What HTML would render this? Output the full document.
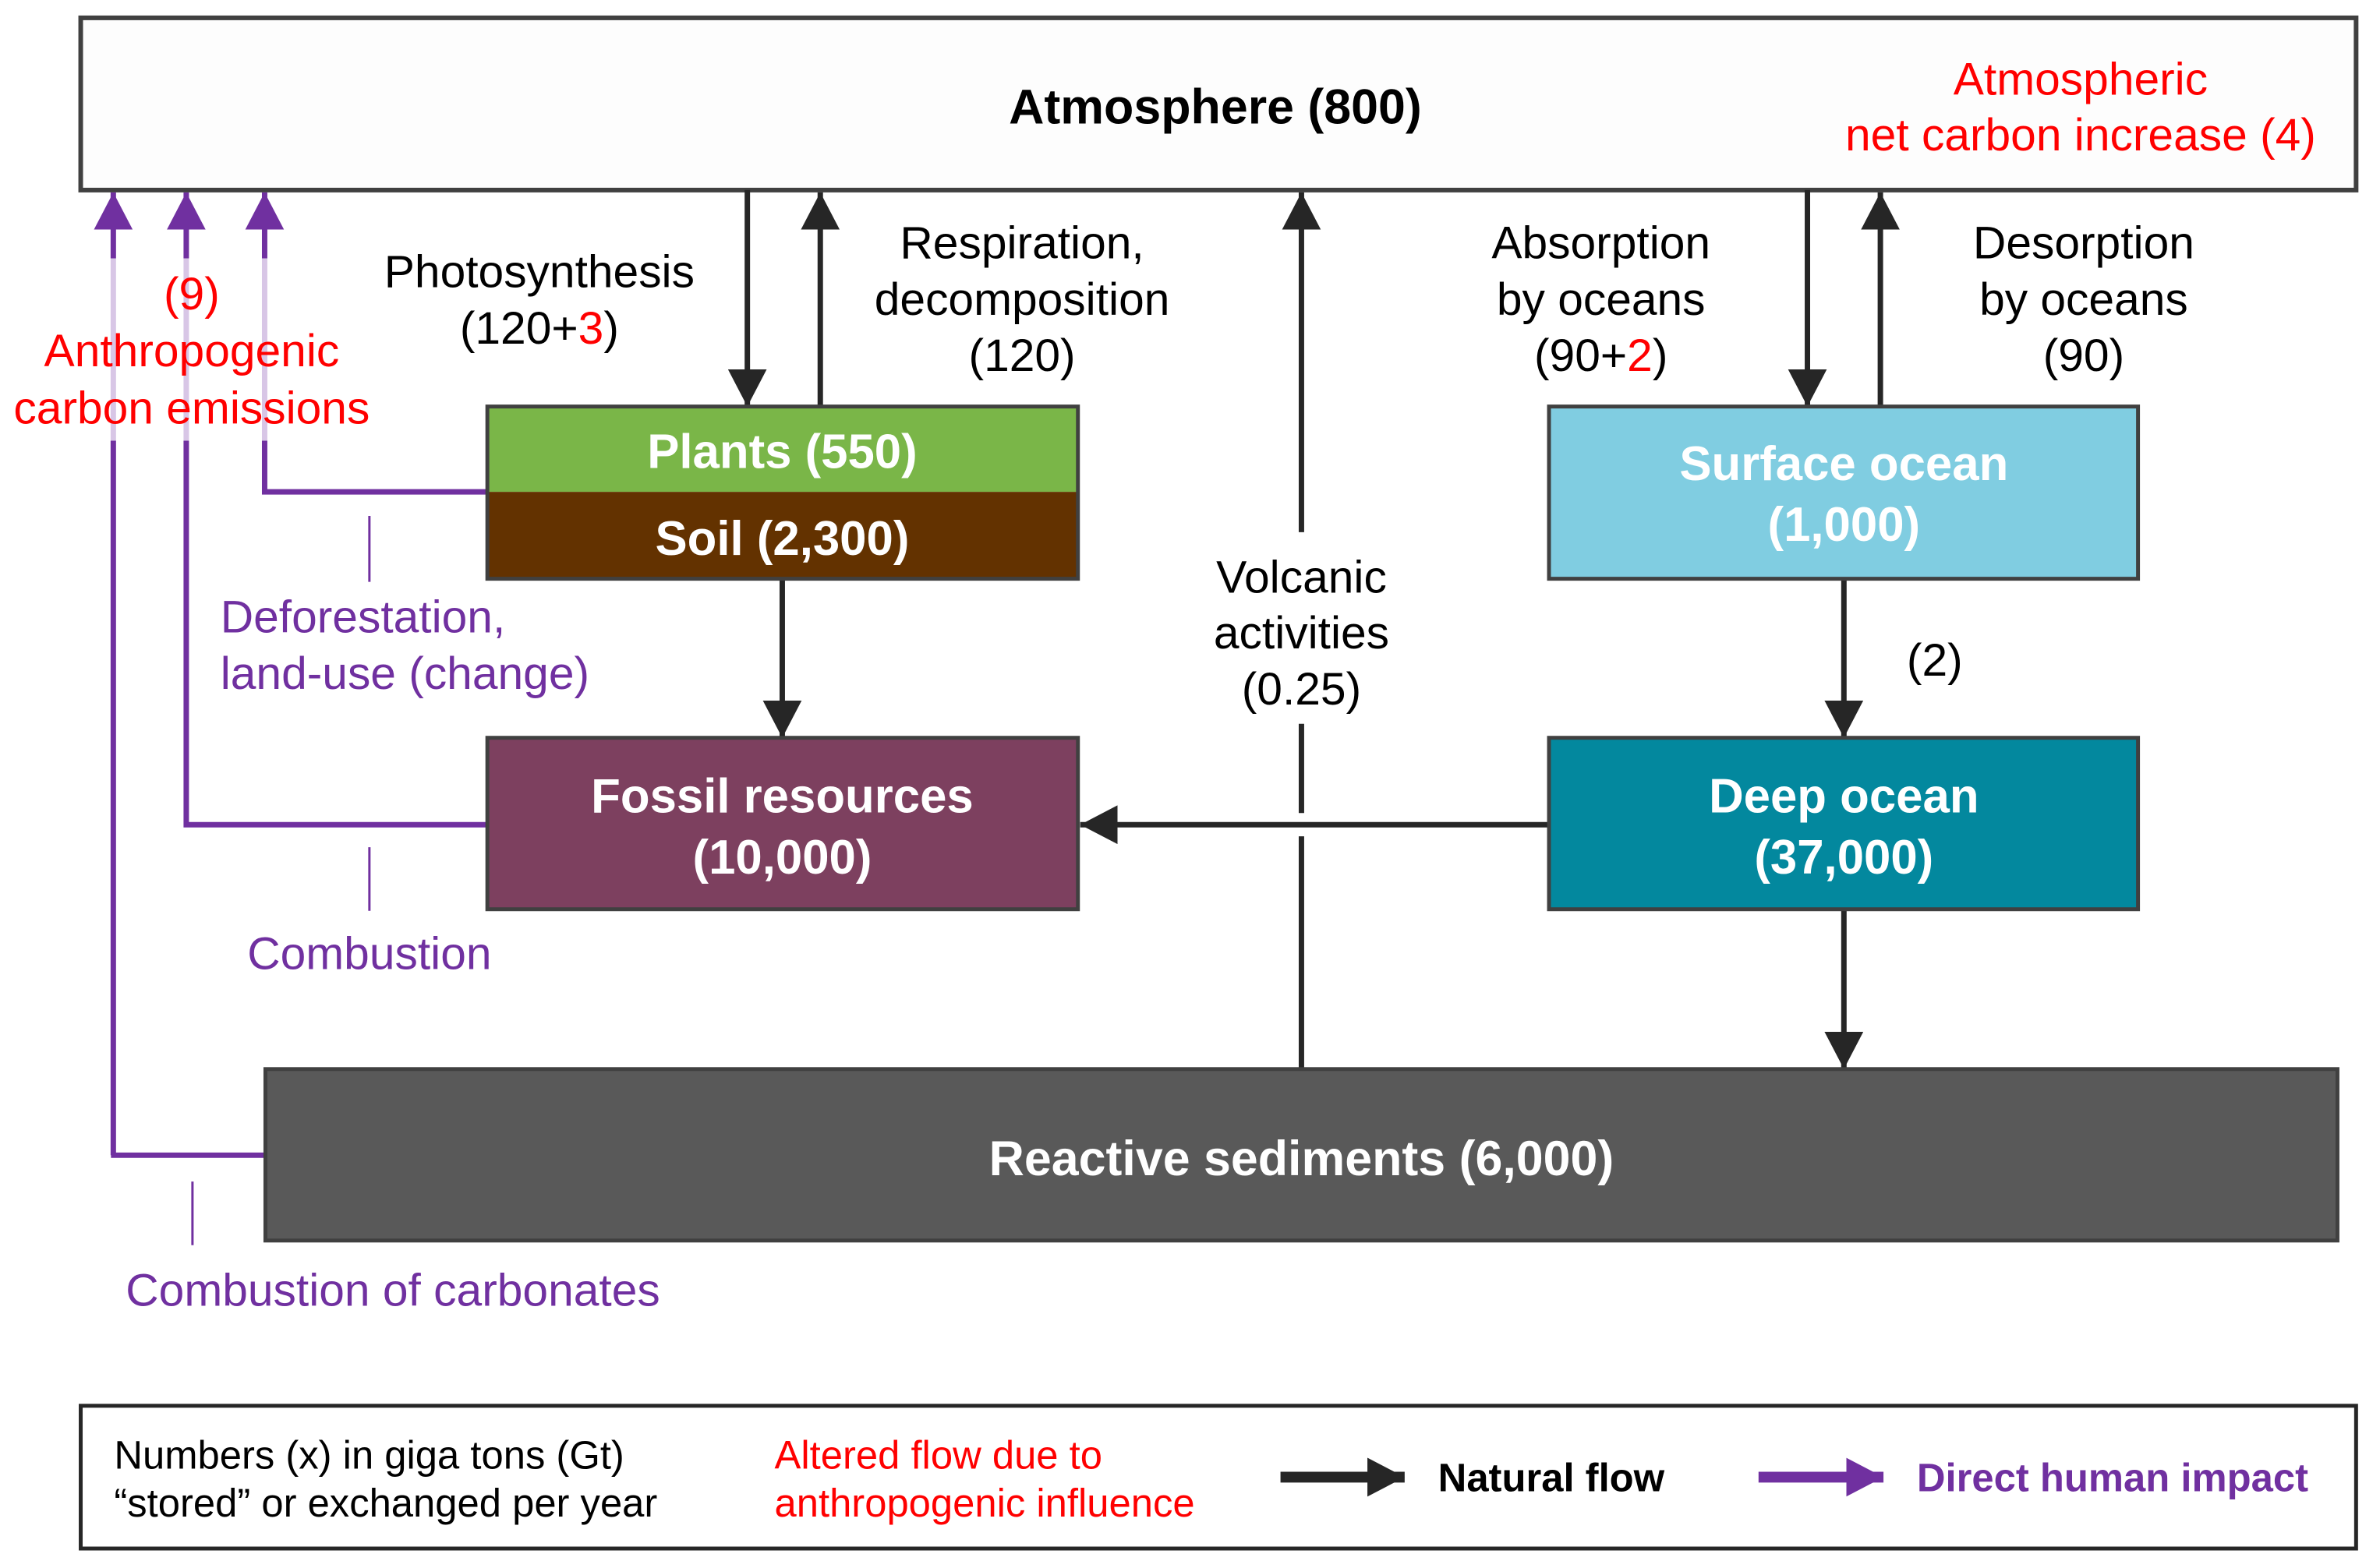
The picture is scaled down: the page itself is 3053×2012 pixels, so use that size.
<!DOCTYPE html>
<html><head><meta charset="utf-8"><style>
html,body{margin:0;padding:0;background:#fff;}
svg{display:block;}
text{font-family:"Liberation Sans",Arial,sans-serif;}
</style></head><body>
<svg width="3053" height="2012" viewBox="0 0 3053 2012" xmlns="http://www.w3.org/2000/svg">
<defs>
<marker id="ab" markerUnits="userSpaceOnUse" markerWidth="52" markerHeight="50" refX="48" refY="25" orient="auto"><path d="M0,0 L48,25 L0,50 Z" fill="#262626"/></marker>
<marker id="ap" markerUnits="userSpaceOnUse" markerWidth="52" markerHeight="50" refX="48" refY="25" orient="auto"><path d="M0,0 L48,25 L0,50 Z" fill="#7030a0"/></marker>
</defs>
<g transform="scale(0.9955)">
<!-- Atmosphere -->
<rect x="104" y="23" width="2932" height="222" fill="#fdfdfd" stroke="#404040" stroke-width="6"/>
<text x="1566" y="159" font-size="63" font-weight="bold" text-anchor="middle">Atmosphere (800)</text>
<text x="2681" y="122" font-size="59" fill="#ff0000" text-anchor="middle">Atmospheric</text>
<text x="2681" y="194" font-size="59" fill="#ff0000" text-anchor="middle">net carbon increase (4)</text>

<!-- purple lines -->
<g fill="none" stroke-width="7">
<path d="M146,1489 L146,568 M146,333 L146,290" stroke="#7030a0"/>
<path d="M146,568 L146,333" stroke="#d8c6e6"/>
<path d="M146,292 L146,248" stroke="#7030a0" marker-end="url(#ap)"/>
<path d="M342,1489 L143,1489" stroke="#7030a0"/>
<path d="M628,1063 L240,1063 L240,568 M240,333 L240,290" stroke="#7030a0"/>
<path d="M240,568 L240,333" stroke="#d8c6e6"/>
<path d="M240,292 L240,248" stroke="#7030a0" marker-end="url(#ap)"/>
<path d="M628,634 L341,634 L341,568 M341,333 L341,290" stroke="#7030a0"/>
<path d="M341,568 L341,333" stroke="#d8c6e6"/>
<path d="M341,292 L341,248" stroke="#7030a0" marker-end="url(#ap)"/>
</g>
<g stroke="#7030a0" stroke-width="3">
<line x1="476" y1="665" x2="476" y2="750"/>
<line x1="476" y1="1092" x2="476" y2="1174"/>
<line x1="248" y1="1523" x2="248" y2="1605"/>
</g>
<text x="247" y="399" font-size="59" fill="#ff0000" text-anchor="middle">(9)</text>
<text x="247" y="472" font-size="59" fill="#ff0000" text-anchor="middle">Anthropogenic</text>
<text x="247" y="546" font-size="59" fill="#ff0000" text-anchor="middle">carbon emissions</text>
<text x="284" y="815" font-size="59" fill="#7030a0">Deforestation,</text>
<text x="284" y="888" font-size="59" fill="#7030a0">land-use (change)</text>
<text x="476" y="1249" font-size="59" fill="#7030a0" text-anchor="middle">Combustion</text>
<text x="162" y="1683" font-size="59" fill="#7030a0">Combustion of carbonates</text>

<!-- black arrows -->
<g stroke="#262626" stroke-width="7" fill="none">
<line x1="963" y1="245" x2="963" y2="524" marker-end="url(#ab)"/>
<line x1="1057" y1="524" x2="1057" y2="248" marker-end="url(#ab)"/>
<line x1="2329" y1="245" x2="2329" y2="524" marker-end="url(#ab)"/>
<line x1="2423" y1="524" x2="2423" y2="248" marker-end="url(#ab)"/>
<line x1="1008" y1="746" x2="1008" y2="951" marker-end="url(#ab)"/>
<line x1="2376" y1="746" x2="2376" y2="951" marker-end="url(#ab)"/>
<line x1="2376" y1="1172" x2="2376" y2="1378" marker-end="url(#ab)"/>
<line x1="1996" y1="1063" x2="1392" y2="1063" marker-end="url(#ab)"/>
<line x1="1677" y1="1378" x2="1677" y2="1078"/>
<line x1="1677" y1="1048" x2="1677" y2="933"/>
<line x1="1677" y1="686" x2="1677" y2="248" marker-end="url(#ab)"/>
</g>

<text x="695" y="370" font-size="59" text-anchor="middle">Photosynthesis</text>
<text x="695" y="443" font-size="59" text-anchor="middle">(120+<tspan fill="#ff0000">3</tspan>)</text>
<text x="1317" y="333" font-size="59" text-anchor="middle">Respiration,</text>
<text x="1317" y="406" font-size="59" text-anchor="middle">decomposition</text>
<text x="1317" y="478" font-size="59" text-anchor="middle">(120)</text>
<text x="2063" y="333" font-size="59" text-anchor="middle">Absorption</text>
<text x="2063" y="406" font-size="59" text-anchor="middle">by oceans</text>
<text x="2063" y="478" font-size="59" text-anchor="middle">(90+<tspan fill="#ff0000">2</tspan>)</text>
<text x="2685" y="333" font-size="59" text-anchor="middle">Desorption</text>
<text x="2685" y="406" font-size="59" text-anchor="middle">by oceans</text>
<text x="2685" y="478" font-size="59" text-anchor="middle">(90)</text>
<text x="1677" y="764" font-size="59" text-anchor="middle">Volcanic</text>
<text x="1677" y="836" font-size="59" text-anchor="middle">activities</text>
<text x="1677" y="908" font-size="59" text-anchor="middle">(0.25)</text>
<text x="2493" y="871" font-size="59" text-anchor="middle">(2)</text>

<!-- boxes -->
<rect x="628" y="524" width="761" height="110" fill="#7ab648"/>
<rect x="628" y="634" width="761" height="112" fill="#633200"/>
<rect x="628" y="524" width="761" height="222" fill="none" stroke="#404040" stroke-width="5"/>
<text x="1008" y="603" font-size="62" font-weight="bold" fill="#fff" text-anchor="middle">Plants (550)</text>
<text x="1008" y="715" font-size="62" font-weight="bold" fill="#fff" text-anchor="middle">Soil (2,300)</text>

<rect x="628" y="951" width="761" height="221" fill="#7d405f" stroke="#404040" stroke-width="5"/>
<text x="1008" y="1047" font-size="62" font-weight="bold" fill="#fff" text-anchor="middle">Fossil resources</text>
<text x="1008" y="1126" font-size="62" font-weight="bold" fill="#fff" text-anchor="middle">(10,000)</text>

<rect x="1996" y="524" width="759" height="222" fill="#80cde1" stroke="#404040" stroke-width="5"/>
<text x="2376" y="619" font-size="62" font-weight="bold" fill="#fff" text-anchor="middle">Surface ocean</text>
<text x="2376" y="697" font-size="62" font-weight="bold" fill="#fff" text-anchor="middle">(1,000)</text>

<rect x="1996" y="951" width="759" height="221" fill="#03889e" stroke="#404040" stroke-width="5"/>
<text x="2376" y="1047" font-size="62" font-weight="bold" fill="#fff" text-anchor="middle">Deep ocean</text>
<text x="2376" y="1126" font-size="62" font-weight="bold" fill="#fff" text-anchor="middle">(37,000)</text>

<rect x="342" y="1378" width="2670" height="221" fill="#595959" stroke="#404040" stroke-width="5"/>
<text x="1677" y="1515" font-size="63" font-weight="bold" fill="#fff" text-anchor="middle">Reactive sediments (6,000)</text>

<!-- legend -->
<rect x="104" y="1812" width="2932" height="184" fill="#fff" stroke="#262626" stroke-width="5"/>
<text x="147" y="1893" font-size="51">Numbers (x) in giga tons (Gt)</text>
<text x="147" y="1955" font-size="51">“stored” or exchanged per year</text>
<text x="998" y="1893" font-size="51" fill="#ff0000">Altered flow due to</text>
<text x="998" y="1955" font-size="51" fill="#ff0000">anthropogenic influence</text>
<line x1="1650" y1="1904" x2="1810" y2="1904" stroke="#262626" stroke-width="14" marker-end="url(#ab)"/>
<text x="1853" y="1922" font-size="51" font-weight="bold">Natural flow</text>
<line x1="2266" y1="1904" x2="2427" y2="1904" stroke="#7030a0" stroke-width="14" marker-end="url(#ap)"/>
<text x="2470" y="1922" font-size="51" font-weight="bold" fill="#7030a0">Direct human impact</text>
</g>
</svg>
</body></html>
